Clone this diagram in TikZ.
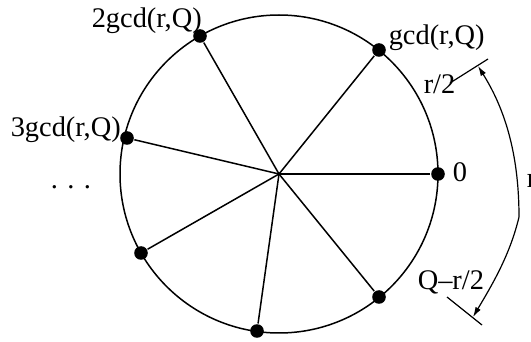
\documentclass[tikz,border=0pt]{standalone}
\usepackage{fontspec}
\setmainfont{Liberation Serif}
\usetikzlibrary{arrows.meta}
\begin{document}
\begin{tikzpicture}[x=0.5pt,y=-0.5pt,line width=0.75pt,
  dot/.style={circle,fill=black,inner sep=0pt,minimum size=6.8pt},
  lbl/.style={anchor=base west,inner sep=0pt,font=\fontsize{14.2}{16}\selectfont},
  dim/.style={line width=0.6pt}]
\useasboundingbox (0,0) rectangle (531,342);
\coordinate (c) at (279,174);
\draw (c) circle[radius=79.5pt];
\node[dot] (d0) at (438,174) {};
\node[dot] (d1) at (379,50) {};
\node[dot] (d2) at (200,36) {};
\node[dot] (d3) at (127,138) {};
\node[dot] (d4) at (141,253) {};
\node[dot] (d5) at (257,331) {};
\node[dot] (d6) at (379,297) {};
\foreach \i in {0,...,6} \draw (c) -- (d\i);
% labels
\node[lbl] (l0) at (452,182) {0};
\node[lbl] (l1) at (388,45) {gcd(r,Q)};
\node[lbl] (l2) at (91,28) {2gcd(r,Q)};
\node[lbl] (l3) at (10,137) {3gcd(r,Q)};
\node[lbl] (ld) at (50,189) {.\,\,.\,\,.};
\node[lbl] (lr2) at (423,94) {r/2};
\node[lbl] (lq) at (417,290) {Q--r/2};
\node[lbl] (lr) at (526,188) {r};
% dimension
\coordinate (t1a) at (450,83);
\coordinate (t1b) at (488,59);
\coordinate (t2a) at (447,297);
\coordinate (t2b) at (482,325);
\draw[dim] (t1a) -- (t1b);
\draw[dim] (t2a) -- (t2b);
\coordinate (a1) at (478,66);
\coordinate (k) at (519,217);
\coordinate (a2) at (473,317);
\draw[dim,{Latex[length=5pt,width=3pt]}-{Latex[length=5pt,width=3pt]}]
  (a1) .. controls (503,106) and (519,150) .. (k)
  .. controls (510,255) and (492,285) .. (a2);
\end{tikzpicture}
\end{document}
